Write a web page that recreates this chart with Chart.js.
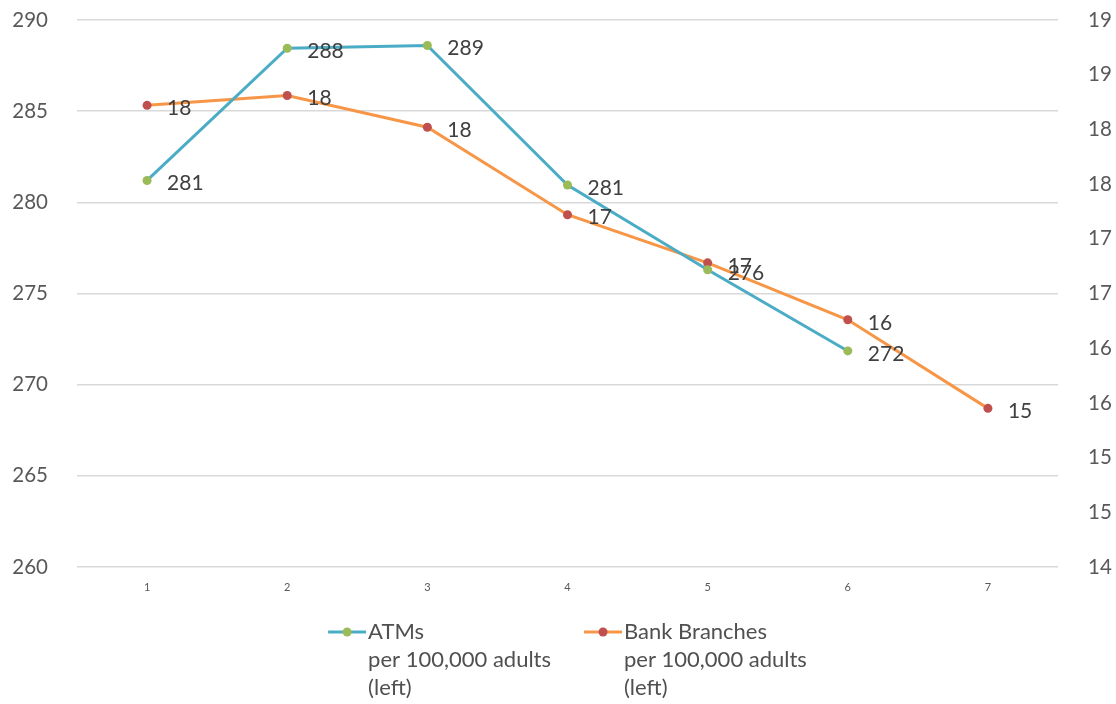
<!DOCTYPE html>
<html>
<head>
<meta charset="utf-8">
<script src="https://cdn.jsdelivr.net/npm/chart.js@4.4.1/dist/chart.umd.min.js"></script>
<style>
  html, body { margin: 0; padding: 0; background: #ffffff; }
  #wrap { width: 1116px; height: 704px; position: relative; }
</style>
</head>
<body>
<div id="wrap"><canvas id="c" width="1116" height="704"></canvas></div>
<script>
// Categories along the x axis
const categories = ['1', '2', '3', '4', '5', '6', '7'];

// ATMs per 100,000 adults (left axis)
const atmValues = [281.2, 288.45, 288.6, 280.95, 276.3, 271.85, null];

// Bank branches per 100,000 adults (right axis)
const branchValues = [18.22, 18.31, 18.02, 17.22, 16.78, 16.26, 15.45];

// Legend text, one array of lines per series
const atmLabel = ['ATMs', 'per 100,000 adults', '(left)'];
const branchLabel = ['Bank Branches', 'per 100,000 adults', '(left)'];

const FONT = 'Lato, "Open Sans", sans-serif';
const TEXT = '#595959';

// Value labels placed to the right of each point
const pointLabels = {
  id: 'pointLabels',
  afterDatasetsDraw(chart) {
    const ctx = chart.ctx;
    ctx.save();
    ctx.font = '21px ' + FONT;
    ctx.fillStyle = '#404040';
    ctx.textAlign = 'left';
    ctx.textBaseline = 'middle';
    chart.data.datasets.forEach((ds, i) => {
      const meta = chart.getDatasetMeta(i);
      meta.data.forEach((pt, j) => {
        const v = ds.data[j];
        if (v === null || v === undefined) return;
        ctx.fillText(String(Math.round(v)), pt.x + 20, pt.y + 3);
      });
    });
    ctx.restore();
  }
};

// Multi-line legend drawn under the plot, centred on the plot area
const multiLegend = {
  id: 'multiLegend',
  afterDraw(chart) {
    const ctx = chart.ctx;
    const area = chart.chartArea;
    ctx.save();
    ctx.font = '22px ' + FONT;
    const symW = 38, symGap = 2, itemGap = 33, lineH = 28;
    const items = chart.data.datasets.map(ds => {
      const w = Math.max(...ds.legendLines.map(t => ctx.measureText(t).width));
      return { ds, w: symW + symGap + w };
    });
    const total = items.reduce((s, it) => s + it.w, 0) + itemGap * (items.length - 1);
    let x = (area.left + area.right) / 2 - total / 2;
    const y0 = 632;
    items.forEach(it => {
      const ds = it.ds;
      ctx.strokeStyle = ds.borderColor;
      ctx.lineWidth = 3;
      ctx.beginPath();
      ctx.moveTo(x, y0);
      ctx.lineTo(x + symW, y0);
      ctx.stroke();
      ctx.fillStyle = ds.pointBackgroundColor;
      ctx.beginPath();
      ctx.arc(x + symW / 2, y0, 4.5, 0, Math.PI * 2);
      ctx.fill();
      ctx.fillStyle = '#505050';
      ctx.textAlign = 'left';
      ctx.textBaseline = 'middle';
      ds.legendLines.forEach((t, k) => {
        ctx.fillText(t, x + symW + symGap, y0 + k * lineH);
      });
      x += it.w + itemGap;
    });
    ctx.restore();
  }
};

// Vertical axes: fixed width, no extra top/bottom padding from tick labels
function fitVertical(width) {
  return scale => {
    scale.width = width;
    scale.paddingTop = 0;
    scale.paddingBottom = 0;
  };
}

new Chart(document.getElementById('c'), {
  type: 'line',
  data: {
    labels: categories,
    datasets: [
      {
        label: atmLabel.join(' '),
        legendLines: atmLabel,
        data: atmValues,
        yAxisID: 'y',
        borderColor: '#4BACC6',
        backgroundColor: '#4BACC6',
        borderWidth: 3,
        pointBackgroundColor: '#9BBB59',
        pointBorderWidth: 0,
        pointRadius: 4.5,
        tension: 0,
        spanGaps: false
      },
      {
        label: branchLabel.join(' '),
        legendLines: branchLabel,
        data: branchValues,
        yAxisID: 'y1',
        borderColor: '#F79646',
        backgroundColor: '#F79646',
        borderWidth: 3,
        pointBackgroundColor: '#C0504D',
        pointBorderWidth: 0,
        pointRadius: 4.5,
        tension: 0
      }
    ]
  },
  options: {
    responsive: false,
    animation: false,
    devicePixelRatio: 1,
    layout: { padding: { top: 20, bottom: 0, left: 0, right: 0 } },
    plugins: {
      legend: { display: false },
      tooltip: { enabled: false }
    },
    scales: {
      x: {
        offset: true,
        grid: { display: false, drawTicks: false },
        border: { display: false },
        ticks: { color: TEXT, font: { family: FONT, size: 11 }, padding: 14 },
        afterFit(scale) { scale.height = 137; }
      },
      y: {
        position: 'left',
        min: 260,
        max: 290,
        ticks: { stepSize: 5, color: TEXT, font: { family: FONT, size: 20.5 }, padding: 29 },
        grid: { color: '#D9D9D9', lineWidth: 1.5, drawTicks: false },
        border: { display: false },
        afterFit: fitVertical(77)
      },
      y1: {
        position: 'right',
        min: 14,
        max: 19,
        ticks: {
          stepSize: 0.5,
          color: TEXT,
          font: { family: FONT, size: 20.5 },
          padding: 30,
          callback: v => String(Math.round(v))
        },
        grid: { display: false, drawTicks: false },
        border: { display: false },
        afterFit: fitVertical(58)
      }
    }
  },
  plugins: [pointLabels, multiLegend]
});
</script>
</body>
</html>
